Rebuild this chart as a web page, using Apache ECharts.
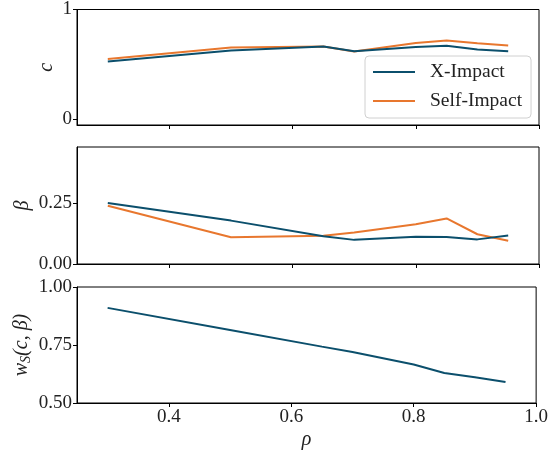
<!DOCTYPE html>
<html><head><meta charset="utf-8">
<script src="https://cdn.jsdelivr.net/npm/echarts@6/dist/echarts.min.js"></script>
<style>html,body{margin:0;padding:0;background:#fff}#c{width:551px;height:455px}</style>
</head><body><div id="c"></div>
<script>
const rho = [0.3, 0.5, 0.65, 0.7, 0.8, 0.85, 0.9, 0.95];
const cX = [0.527, 0.627, 0.663, 0.620, 0.660, 0.670, 0.636, 0.620];
const cSelf = [0.551, 0.654, 0.664, 0.618, 0.696, 0.718, 0.693, 0.672];
const betaX = [0.250, 0.178, 0.114, 0.099, 0.112, 0.111, 0.101, 0.117];
const betaSelf = [0.239, 0.110, 0.116, 0.129, 0.163, 0.187, 0.122, 0.095];
const wS = [0.910, 0.815, 0.743, 0.720, 0.666, 0.629, 0.611, 0.591];
const xTicks = [0.4, 0.6, 0.8, 1.0];
const cTicks = [0, 1];
const betaTicks = [0.0, 0.25];
const wTicks = [0.5, 0.75, 1.0];

const BLUE = '#0b4f6c', ORANGE = '#e8772e';
const FONT = 'Liberation Serif';
const FS = 19;
const pair = ys => rho.map((x, i) => [x, ys[i]]);

const grids = [
  {left: 77, right: 12, top: 9, height: 116},
  {left: 77, right: 12, top: 147, height: 117},
  {left: 77, right: 12, top: 287, height: 116}
].map(g => Object.assign({show: true, borderColor: '#000', borderWidth: 1, backgroundColor: 'transparent'}, g));

function xAx(i, labels) {
  return {
    type: 'value', gridIndex: i, min: 0.25, max: 1.0,
    axisLine: {show: true, onZero: false, lineStyle: {color: '#000', width: 1}},
    axisTick: {show: true, customValues: xTicks, length: 4, lineStyle: {color: '#000'}},
    axisLabel: {show: labels, customValues: xTicks, color: '#222', fontFamily: FONT, fontSize: FS, margin: 5,
      formatter: v => v.toFixed(1)},
    splitLine: {show: false},
    name: labels ? 'ρ' : '', nameLocation: 'middle', nameGap: 27, nameMoveOverlap: false,
    nameTextStyle: {fontFamily: FONT, fontStyle: 'italic', fontSize: 20, color: '#222'}
  };
}
function yAx(i, min, max, ticks, dec, name, gap) {
  return {
    type: 'value', gridIndex: i, min: min, max: max,
    axisLine: {show: true, onZero: false, lineStyle: {color: '#000', width: 1}},
    axisTick: {show: true, customValues: ticks, length: 4, lineStyle: {color: '#000'}},
    axisLabel: {customValues: ticks, color: '#222', fontFamily: FONT, fontSize: FS, margin: 5,
      formatter: v => v.toFixed(dec)},
    splitLine: {show: false},
    name: name, nameLocation: 'middle', nameGap: gap, nameMoveOverlap: false,
    nameTextStyle: {fontFamily: FONT, fontStyle: 'italic', fontSize: 20, color: '#222'}
  };
}
const lineS = (name, ys, color, i) => ({
  name: name, type: 'line', xAxisIndex: i, yAxisIndex: i, data: pair(ys),
  symbol: 'none', lineStyle: {color: color, width: 2}, itemStyle: {color: color}, z: name === 'X-Impact' ? 3 : 2
});

const chart = echarts.init(document.getElementById('c'), null, {renderer: 'canvas'});
chart.setOption({
  animation: false,
  backgroundColor: '#fff',
  grid: grids,
  xAxis: [xAx(0, false), xAx(1, false), xAx(2, true)],
  yAxis: [
    yAx(0, -0.05, 1.0, cTicks, 0, 'c', 20),
    yAx(1, 0, 0.48, betaTicks, 2, 'β', 44),
    yAx(2, 0.5, 1.0, wTicks, 2, '{i|w}{s|S}{n|(}{i|c}{n|, }{i|β}{n|)}', 44)
  ],
  legend: {
    left: 365, top: 56, orient: 'vertical', icon: 'rect', itemWidth: 42, itemHeight: 2,
    itemGap: 9, padding: [6, 9, 7, 8],
    borderColor: '#d0d0d0', borderWidth: 1, borderRadius: 4, backgroundColor: 'rgba(255,255,255,0.85)',
    textStyle: {fontFamily: FONT, fontSize: 19.5, color: '#222', padding: [0, 0, 0, 10], lineHeight: 20},
    data: ['X-Impact', 'Self-Impact']
  },
  series: [
    lineS('X-Impact', cX, BLUE, 0),
    lineS('Self-Impact', cSelf, ORANGE, 0),
    lineS('X-Impact', betaX, BLUE, 1),
    lineS('Self-Impact', betaSelf, ORANGE, 1),
    lineS('X-Impact', wS, BLUE, 2)
  ]
});
chart.setOption({
  yAxis: [{}, {}, {
    nameTextStyle: {
      rich: {
        i: {fontFamily: FONT, fontStyle: 'italic', fontSize: 20, color: '#222'},
        s: {fontFamily: FONT, fontSize: 14, color: '#222', verticalAlign: 'bottom', padding: [8, 0, 0, 0]},
        n: {fontFamily: FONT, fontSize: 20, color: '#222'}
      }
    }
  }]
});
</script></body></html>
